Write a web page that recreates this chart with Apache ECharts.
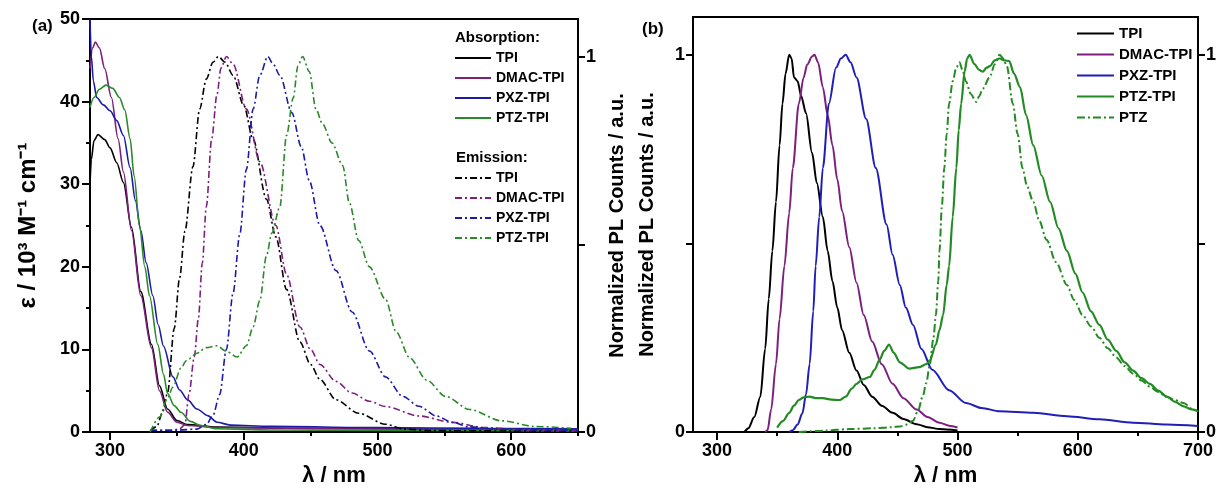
<!DOCTYPE html>
<html>
<head>
<meta charset="utf-8">
<script src="https://cdn.jsdelivr.net/npm/echarts@6/dist/echarts.min.js"></script>
<style>
  html, body { margin: 0; padding: 0; background: #fff; }
  #chart { width: 1219px; height: 492px; }
</style>
</head>
<body>
<div id="chart"></div>
<script>
// ---- panel (a): absorption, epsilon / 10^3 M-1 cm-1
var absTPI = [[285,30],[286,33],[288,35.3],[291,36],[296,35.4],[300,34.4],[305,32.6],[310,30.2],[316,24.8],[323,17],[331,10.6],[337,5.6],[343,2.8],[350,1.4],[358,0.9],[380,0.6],[450,0.45],[550,0.35],[650,0.3]];
var absDMAC = [[285,44],[287,46.5],[289,47.2],[292,46.5],[296,44],[301,40.5],[306,35.5],[310,31.5],[316,24.4],[323,16.5],[331,10.2],[337,5],[343,2.4],[350,1.2],[358,0.8],[380,0.55],[450,0.45],[550,0.35],[650,0.3]];
var absPXZ = [[285,50],[286,45.5],[287.5,42.5],[290,40.5],[295,39.6],[300,38.9],[305,37.7],[310,35.9],[315,32],[319,28],[323,24.4],[327,20.5],[332,16.5],[336,13],[340,10.4],[347,6.7],[352,5.1],[358,3.9],[365,2.8],[373,2],[380,1.2],[390,0.85],[420,0.7],[500,0.55],[580,0.45],[650,0.4]];
var absPTZ = [[285,39.3],[288,40.5],[292,41.5],[297,42],[302,41.6],[307,40.5],[311,39],[315,35.5],[318,31],[322,25],[326,20],[329.5,16.5],[335.7,10.6],[340,7],[343,4.7],[348,3.2],[353,2.4],[360,1.3],[368,0.8],[380,0.4],[420,0.25],[500,0.2],[650,0.15]];

// ---- panel (a): emission, normalized
var emTPI = [[330,0.003],[335,0.015],[339,0.05],[343,0.104],[348,0.276],[352,0.41],[356,0.535],[362,0.707],[367,0.86],[372,0.94],[377,0.985],[381,1],[386,0.985],[392,0.95],[400,0.87],[407,0.78],[417,0.62],[424,0.52],[432,0.38],[442,0.24],[450,0.18],[457,0.14],[469,0.086],[486,0.05],[506,0.021],[520,0.008],[540,0.004],[600,0.003],[650,0.003]];
var emDMAC = [[330,0.005],[345,0.005],[352,0.008],[356,0.02],[359,0.1],[363,0.2],[366,0.3],[369,0.45],[372,0.6],[376,0.78],[380,0.9],[383,0.97],[387,1],[392,0.98],[402,0.86],[412,0.72],[424,0.55],[432,0.42],[442,0.28],[450,0.22],[457,0.18],[469,0.135],[481,0.104],[494,0.082],[506,0.068],[531,0.043],[556,0.026],[580,0.012],[610,0.006],[650,0.004]];
var emPXZ = [[330,0.005],[350,0.005],[365,0.008],[372,0.02],[377,0.045],[382,0.1],[387,0.22],[392,0.37],[397,0.526],[402,0.7],[407,0.86],[412,0.95],[418,1],[422,0.98],[427,0.95],[436,0.85],[443,0.76],[449,0.67],[457,0.55],[469,0.43],[481,0.32],[494,0.216],[506,0.147],[519,0.095],[531,0.069],[544,0.043],[556,0.026],[568,0.014],[590,0.008],[620,0.006],[650,0.005]];
var emPTZ = [[330,0],[337,0.04],[343,0.09],[347,0.12],[353,0.17],[357,0.19],[365,0.21],[372,0.225],[380,0.23],[387,0.215],[395,0.2],[402,0.23],[407,0.28],[412,0.35],[417,0.47],[421,0.53],[427,0.6],[432,0.79],[437,0.89],[440.5,0.975],[444,1],[449,0.96],[454,0.86],[459,0.82],[466,0.77],[474,0.71],[479,0.61],[486,0.51],[494,0.44],[506,0.354],[514,0.267],[524,0.198],[537,0.138],[551,0.095],[569,0.06],[593,0.03],[618,0.015],[645,0.01]];

// ---- panel (b): PL, normalized
var plTPI = [[300,0],[322,0],[326,0.01],[331,0.04],[336,0.094],[340,0.22],[343,0.353],[346,0.48],[349,0.61],[352,0.76],[354.4,0.87],[357,0.95],[360,1],[362,0.99],[364,0.94],[367,0.93],[370,0.89],[374,0.845],[379,0.74],[383,0.66],[388,0.57],[392,0.48],[396,0.4],[400,0.33],[404,0.27],[410,0.21],[416,0.163],[422,0.125],[429,0.094],[437,0.07],[446,0.051],[455,0.035],[466,0.021],[475,0.013],[485,0.008],[500,0.004]];
var plDMAC = [[340,0],[342,0.005],[345,0.06],[349,0.18],[352,0.3],[356,0.44],[360,0.58],[363,0.7],[368,0.87],[372,0.94],[375,0.974],[379,0.995],[381,1],[384,0.98],[388,0.914],[392,0.84],[396,0.76],[400,0.67],[404,0.586],[410,0.49],[416,0.396],[422,0.31],[429,0.24],[437,0.18],[446,0.128],[455,0.09],[466,0.06],[475,0.04],[485,0.025],[493,0.017],[500,0.012]];
var plPXZ = [[360,0],[363,0.005],[367,0.02],[371,0.05],[374,0.1],[377,0.18],[380,0.32],[382,0.44],[385,0.57],[388,0.7],[393,0.87],[399,0.966],[403,0.99],[407,1],[411,0.98],[416,0.94],[424,0.83],[432,0.7],[441,0.55],[446,0.47],[452,0.39],[457,0.33],[463,0.284],[470,0.22],[479,0.165],[493,0.111],[507,0.077],[520,0.064],[535,0.055],[563,0.051],[591,0.042],[618,0.034],[646,0.025],[674,0.02],[700,0.016]];
var plPTZTPI = [[350,0.012],[355,0.03],[360,0.051],[364,0.07],[368,0.085],[372,0.092],[377,0.094],[382,0.09],[388,0.09],[395,0.086],[402,0.085],[407,0.094],[412,0.115],[416,0.128],[421,0.14],[427,0.146],[431,0.165],[435,0.19],[439,0.215],[443,0.232],[447,0.21],[452,0.185],[460,0.168],[468,0.172],[474,0.18],[477,0.19],[482,0.232],[485,0.27],[488,0.31],[491,0.39],[493,0.44],[496,0.57],[499,0.7],[501,0.8],[503,0.87],[506,0.957],[508,0.99],[510,1],[514,0.975],[518,0.96],[521,0.955],[524,0.965],[527,0.97],[531,0.985],[535,0.99],[539,0.985],[543,0.983],[547,0.95],[552,0.914],[557,0.84],[563,0.76],[570,0.68],[577,0.61],[584,0.54],[591,0.48],[598,0.42],[604,0.37],[611,0.32],[618,0.284],[625,0.245],[632,0.215],[639,0.185],[646,0.163],[653,0.143],[660,0.128],[667,0.11],[674,0.094],[681,0.08],[688,0.068],[695,0.06],[700,0.055]];
var plPTZ = [[368,0],[390,0.004],[410,0.008],[430,0.01],[445,0.013],[452,0.015],[458,0.02],[463,0.03],[467,0.055],[471,0.094],[474,0.13],[477,0.18],[480,0.25],[482,0.31],[484,0.4],[485,0.48],[487,0.6],[489,0.7],[491,0.79],[493,0.87],[496,0.93],[499,0.966],[501.7,0.98],[504,0.96],[507,0.93],[511,0.896],[515.6,0.875],[518,0.89],[521,0.91],[526.7,0.94],[531,0.975],[535,1],[538,0.99],[541,0.97],[546,0.87],[550,0.79],[554,0.7],[558,0.65],[563,0.61],[568,0.56],[574,0.51],[582,0.45],[591,0.39],[597,0.35],[604,0.31],[611,0.28],[618,0.25],[625,0.222],[632,0.198],[639,0.175],[646,0.155],[653,0.137],[660,0.12],[667,0.106],[674,0.094],[681,0.085],[688,0.077],[696,0.06],[700,0.055]];

// ticks
var xTicksA = [300, 400, 500, 600];
var xMinorA = [350, 450, 550, 650];
var xTicksB = [300, 400, 500, 600, 700];
var xMinorB = [350, 450, 550, 650];
var normTicks = [0, 0.5, 1];
var normLabels = [0, 1];

var FONT = '"Liberation Sans", Arial, sans-serif';
var BLACK = '#000000', PURPLE = '#7d1f7d', BLUE = '#1b1ba6', GREEN = '#2a8a2a';
var BLUE_B = '#1f1fb8', GREEN_B = '#238b23';
var DASHDOT = [7, 3, 2, 3];

var labelStyle = {color: '#000', fontFamily: FONT, fontWeight: 'bold', fontSize: 18};
var nameStyle = {color: '#000', fontFamily: FONT, fontWeight: 'bold', fontSize: 22};
var axisLine = {show: true, onZero: false, lineStyle: {color: '#000', width: 2}};

function xMain(grid, min, max, ticks) {
    return {
        gridIndex: grid, type: 'value', min: min, max: max, position: 'bottom',
        axisLine: axisLine,
        axisTick: {show: true, customValues: ticks, length: 8, lineStyle: {color: '#000', width: 2}},
        axisLabel: Object.assign({customValues: ticks, margin: 10}, labelStyle),
        splitLine: {show: false},
        name: 'λ / nm', nameLocation: 'middle', nameGap: 29, nameTextStyle: nameStyle
    };
}
function xMinor(grid, min, max, ticks) {
    return {
        gridIndex: grid, type: 'value', min: min, max: max, position: 'bottom',
        axisLine: {show: false},
        axisTick: {show: true, customValues: ticks, length: 4, lineStyle: {color: '#000', width: 2}},
        axisLabel: {show: false},
        splitLine: {show: false}
    };
}
function yNorm(grid, pos, showName, gap) {
    var ax = {
        gridIndex: grid, type: 'value', min: 0, max: 1.1, position: pos,
        axisLine: axisLine,
        axisTick: {show: true, customValues: normTicks, length: 7, lineStyle: {color: '#000', width: 2}},
        axisLabel: Object.assign({customValues: normLabels, margin: 8}, labelStyle),
        splitLine: {show: false}
    };
    if (showName) {
        ax.name = 'Normalized PL Counts / a.u.';
        ax.nameLocation = 'middle';
        ax.nameRotate = 90;
        ax.nameGap = gap;
        ax.nameTextStyle = Object.assign({}, nameStyle, {fontSize: 20});
    }
    return ax;
}

function line(name, x, y, data, color, width, type) {
    return {
        name: name, type: 'line', xAxisIndex: x, yAxisIndex: y, data: data,
        showSymbol: false, symbol: 'none', smooth: 0.3, smoothMonotone: 'x',
        lineStyle: {color: color, width: width, type: type || 'solid'},
        itemStyle: {color: color}
    };
}

var legendText = {color: '#000', fontFamily: FONT, fontWeight: 'bold', fontSize: 14};
function legendName(n) { return n.split(':')[1]; }
// hide the legend marker, keep only the line sample
var noMarker = {opacity: 0};

var chart = echarts.init(document.getElementById('chart'));
chart.setOption({
    animation: false,
    backgroundColor: '#fff',
    grid: [
        {left: 90, top: 19, width: 488, height: 424, show: true, borderColor: '#000', borderWidth: 2},
        {left: 693, top: 17, width: 509, height: 426, show: true, borderColor: '#000', borderWidth: 2}
    ],
    xAxis: [
        xMain(0, 285, 650, xTicksA),
        xMinor(0, 285, 650, xMinorA),
        xMain(1, 280, 700, xTicksB),
        xMinor(1, 280, 700, xMinorB)
    ],
    yAxis: [
        {
            gridIndex: 0, type: 'value', min: 0, max: 50, interval: 10, position: 'left',
            axisLine: axisLine,
            axisTick: {show: true, length: 8, lineStyle: {color: '#000', width: 2}},
            minorTick: {show: true, splitNumber: 2, length: 4, lineStyle: {color: '#000', width: 2}},
            axisLabel: Object.assign({margin: 10}, labelStyle),
            splitLine: {show: false},
            name: 'ε / 10³ M⁻¹ cm⁻¹', nameLocation: 'middle', nameRotate: 90, nameGap: 50,
            nameTextStyle: Object.assign({}, nameStyle, {fontSize: 24})
        },
        yNorm(0, 'right', true, 29),
        yNorm(1, 'left', true, 36),
        yNorm(1, 'right', false)
    ],
    legend: [
        {
            left: 454, top: 51, orient: 'vertical', padding: 0, itemWidth: 36, itemHeight: 14, itemGap: 6,
            itemStyle: noMarker, textStyle: legendText, formatter: legendName, selectedMode: false,
            data: ['abs:TPI', 'abs:DMAC-TPI', 'abs:PXZ-TPI', 'abs:PTZ-TPI']
        },
        {
            left: 454, top: 171, orient: 'vertical', padding: 0, itemWidth: 36, itemHeight: 14, itemGap: 6,
            itemStyle: noMarker, textStyle: legendText, formatter: legendName, selectedMode: false,
            data: ['em:TPI', 'em:DMAC-TPI', 'em:PXZ-TPI', 'em:PTZ-TPI']
        },
        {
            left: 1076, top: 26, orient: 'vertical', padding: 0, itemWidth: 37, itemHeight: 14, itemGap: 6,
            itemStyle: noMarker, textStyle: Object.assign({}, legendText, {fontSize: 15}), formatter: legendName,
            selectedMode: false,
            data: ['pl:TPI', 'pl:DMAC-TPI', 'pl:PXZ-TPI', 'pl:PTZ-TPI', 'pl:PTZ']
        }
    ],
    graphic: [
        {type: 'text', left: 32, top: 18, style: {text: '(a)', font: 'bold 17px ' + FONT, fill: '#000'}},
        {type: 'text', left: 642, top: 21, style: {text: '(b)', font: 'bold 17px ' + FONT, fill: '#000'}},
        {type: 'text', left: 455, top: 30, style: {text: 'Absorption:', font: 'bold 15px ' + FONT, fill: '#000'}},
        {type: 'text', left: 456, top: 150, style: {text: 'Emission:', font: 'bold 15px ' + FONT, fill: '#000'}}
    ],
    series: [
        line('abs:TPI', 0, 0, absTPI, BLACK, 1.6),
        line('abs:DMAC-TPI', 0, 0, absDMAC, PURPLE, 1.6),
        line('abs:PXZ-TPI', 0, 0, absPXZ, BLUE, 1.6),
        line('abs:PTZ-TPI', 0, 0, absPTZ, GREEN, 1.6),
        line('em:TPI', 0, 1, emTPI, BLACK, 1.6, DASHDOT),
        line('em:DMAC-TPI', 0, 1, emDMAC, PURPLE, 1.6, DASHDOT),
        line('em:PXZ-TPI', 0, 1, emPXZ, BLUE, 1.6, DASHDOT),
        line('em:PTZ-TPI', 0, 1, emPTZ, GREEN, 1.6, DASHDOT),
        line('pl:TPI', 2, 2, plTPI, BLACK, 2),
        line('pl:DMAC-TPI', 2, 2, plDMAC, PURPLE, 2),
        line('pl:PXZ-TPI', 2, 2, plPXZ, BLUE_B, 2),
        line('pl:PTZ-TPI', 2, 2, plPTZTPI, GREEN_B, 2.2),
        line('pl:PTZ', 2, 2, plPTZ, GREEN_B, 2, [8, 3, 2, 3])
    ]
});
</script>
</body>
</html>
